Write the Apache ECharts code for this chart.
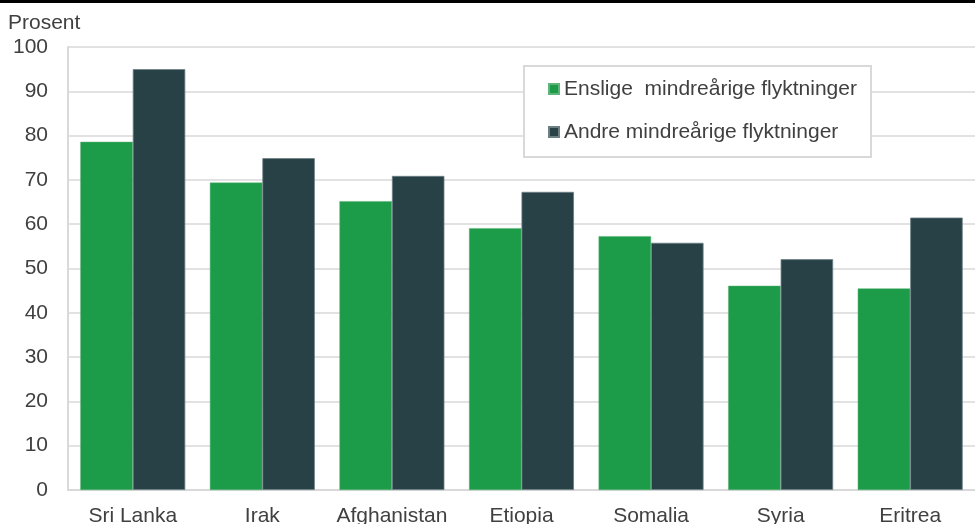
<!DOCTYPE html>
<html>
<head>
<meta charset="utf-8">
<script src="https://cdn.jsdelivr.net/npm/echarts@6/dist/echarts.min.js"></script>
<style>html,body{margin:0;padding:0;background:#fff}#c{width:975px;height:524px}</style>
</head>
<body>
<div id="c"></div>
<script>
const categories = ['Sri Lanka', 'Irak', 'Afghanistan', 'Etiopia', 'Somalia', 'Syria', 'Eritrea'];
const enslige = [78.6, 69.4, 65.2, 59.1, 57.3, 46.1, 45.5];
const andre = [95.0, 74.9, 70.9, 67.3, 55.8, 52.1, 61.5];
const seriesNames = ['Enslige  mindreårige flyktninger', 'Andre mindreårige flyktninger'];
const yTicks = [0, 10, 20, 30, 40, 50, 60, 70, 80, 90, 100];

const font = 'Liberation Sans, Arial, sans-serif';
const chart = echarts.init(document.getElementById('c'), null, {renderer: 'canvas'});
chart.setOption({
  animation: false,
  backgroundColor: '#fff',
  textStyle: {fontFamily: font},
  title: {
    text: 'Prosent', left: 8, top: 13, padding: 0,
    textStyle: {fontSize: 21, fontWeight: 'normal', color: '#404040', fontFamily: font}
  },
  graphic: [{
    type: 'rect', left: 0, top: 0, shape: {width: 975, height: 3},
    style: {fill: '#000'}
  }],
  grid: {left: 68, right: 0, top: 47, bottom: 34, containLabel: false, outerBoundsMode: 'none'},
  legend: {
    orient: 'vertical', left: 524, top: 66,
    padding: [11, 14, 13, 24],
    itemWidth: 10, itemHeight: 10, itemGap: 19,
    borderColor: '#d9d9d9', borderWidth: 2, backgroundColor: '#fff',
    icon: 'rect',
    textStyle: {fontSize: 21, color: '#404040', fontFamily: font, lineHeight: 24},
    data: seriesNames
  },
  xAxis: {
    type: 'category', data: categories,
    axisLine: {lineStyle: {color: '#d9d9d9', width: 2}},
    axisTick: {show: false},
    axisLabel: {interval: 0, fontSize: 21, color: '#404040', margin: 16, fontFamily: font}
  },
  yAxis: {
    type: 'value', min: yTicks[0], max: yTicks[yTicks.length - 1], interval: 10,
    axisLine: {show: true, lineStyle: {color: '#d9d9d9', width: 2}},
    axisTick: {show: false},
    splitLine: {lineStyle: {color: '#d9d9d9', width: 1.5}},
    axisLabel: {fontSize: 21, color: '#404040', margin: 20, fontFamily: font}
  },
  series: [
    {name: seriesNames[0], type: 'bar', data: enslige, barGap: '0%', barCategoryGap: '19%',
     itemStyle: {color: '#1c9b48', borderColor: '#5fb47a', borderWidth: 0.5}},
    {name: seriesNames[1], type: 'bar', data: andre, barGap: '0%', barCategoryGap: '19%',
     itemStyle: {color: '#284147', borderColor: '#6b7f84', borderWidth: 0.8}}
  ]
});
</script>
</body>
</html>
